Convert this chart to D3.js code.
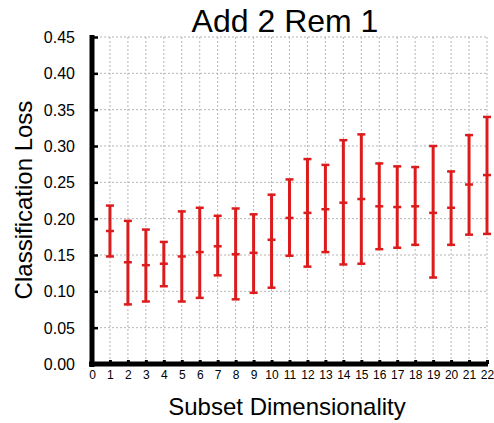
<!DOCTYPE html>
<html>
<head>
<meta charset="utf-8">
<script src="https://cdn.jsdelivr.net/npm/d3@7"></script>
<style>
  body { margin: 0; background: #fff; }
  svg text { font-family: Arial, "Liberation Sans", sans-serif; fill: #000; }
</style>
</head>
<body>
<div id="chart"></div>
<script>
// values
const dims = d3.range(1, 23);
const means = [0.183, 0.140, 0.136, 0.138, 0.148, 0.154, 0.162, 0.151, 0.153, 0.171,
  0.201, 0.208, 0.213, 0.222, 0.227, 0.217, 0.216, 0.217, 0.208, 0.215, 0.247, 0.260];
const lower = [0.148, 0.082, 0.086, 0.107, 0.086, 0.091, 0.122, 0.089, 0.098, 0.105,
  0.149, 0.134, 0.154, 0.137, 0.138, 0.158, 0.160, 0.164, 0.119, 0.164, 0.178, 0.179];
const upper = [0.218, 0.197, 0.185, 0.168, 0.210, 0.215, 0.204, 0.214, 0.206, 0.233,
  0.254, 0.282, 0.274, 0.308, 0.316, 0.276, 0.272, 0.271, 0.300, 0.265, 0.315, 0.340];
const yTicks = d3.range(0, 0.4501, 0.05);
const xTicks = d3.range(0, 23);

const dimensions = {
  width: 494,
  height: 423,
  margin: { top: 37, right: 5, bottom: 59, left: 92 },
};
dimensions.boundedWidth = dimensions.width - dimensions.margin.left - dimensions.margin.right;
dimensions.boundedHeight = dimensions.height - dimensions.margin.top - dimensions.margin.bottom;

const svg = d3.select("#chart")
  .append("svg")
  .attr("width", dimensions.width)
  .attr("height", dimensions.height);

const bounds = svg.append("g")
  .attr("transform", `translate(${dimensions.margin.left},${dimensions.margin.top})`);

const x = d3.scaleLinear().domain([0, 22]).range([0, dimensions.boundedWidth - 2]);
const y = d3.scaleLinear().domain([0, 0.45]).range([dimensions.boundedHeight, 0]);

// dashed grid
bounds.append("g")
  .selectAll("line")
  .data(dims)
  .join("line")
  .attr("x1", d => x(d)).attr("x2", d => x(d))
  .attr("y1", 0).attr("y2", dimensions.boundedHeight)
  .attr("stroke", "#b5b5b5")
  .attr("stroke-dasharray", "2,2");

bounds.append("g")
  .selectAll("line")
  .data(yTicks.slice(1))
  .join("line")
  .attr("x1", 0).attr("x2", x(22))
  .attr("y1", d => y(d)).attr("y2", d => y(d))
  .attr("stroke", "#b5b5b5")
  .attr("stroke-dasharray", "2,2");

// error bars
const red = "#dc1c1c";
const capW = 4;
const bars = bounds.append("g")
  .selectAll("g")
  .data(dims.map((d, i) => ({ d, m: means[i], lo: lower[i], hi: upper[i] })))
  .join("g");

bars.append("line")
  .attr("x1", p => x(p.d)).attr("x2", p => x(p.d))
  .attr("y1", p => y(p.lo)).attr("y2", p => y(p.hi))
  .attr("stroke", red)
  .attr("stroke-width", 3);

["lo", "m", "hi"].forEach(k => {
  bars.append("line")
    .attr("x1", p => x(p.d) - capW).attr("x2", p => x(p.d) + capW)
    .attr("y1", p => y(p[k])).attr("y2", p => y(p[k]))
    .attr("stroke", red)
    .attr("stroke-width", 2.5);
});

// axes
const yAxis = bounds.append("g")
  .call(d3.axisLeft(y).tickValues(yTicks).tickFormat(d3.format(".2f"))
    .tickSize(-6).tickSizeOuter(0).tickPadding(17));
yAxis.select(".domain").attr("stroke-width", 5).attr("d", `M0,${dimensions.boundedHeight + 3}V-2`);
yAxis.selectAll(".tick line").attr("stroke-width", 2.5);
yAxis.selectAll("text").style("font-size", "16px").attr("dy", "0.35em");

const xAxis = bounds.append("g")
  .attr("transform", `translate(0,${dimensions.boundedHeight})`)
  .call(d3.axisBottom(x).tickValues(xTicks).tickFormat(d3.format("d"))
    .tickSize(-4).tickSizeOuter(0).tickPadding(6));
xAxis.select(".domain").attr("stroke-width", 5).attr("d", `M-3,0H${x(22) + 1}`);
xAxis.selectAll(".tick line").attr("stroke-width", 3);
xAxis.selectAll(".tick").filter(d => d === 0).select("line").remove();
xAxis.selectAll("text").style("font-size", "12px");

// titles
svg.append("text")
  .attr("x", 285)
  .attr("y", 32)
  .attr("text-anchor", "middle")
  .style("font-size", "32px")
  .text("Add 2 Rem 1");

svg.append("text")
  .attr("x", 287)
  .attr("y", 415)
  .attr("text-anchor", "middle")
  .style("font-size", "24px")
  .text("Subset Dimensionality");

svg.append("text")
  .attr("transform", "translate(32,200) rotate(-90)")
  .attr("text-anchor", "middle")
  .style("font-size", "24px")
  .text("Classification Loss");
</script>
</body>
</html>
